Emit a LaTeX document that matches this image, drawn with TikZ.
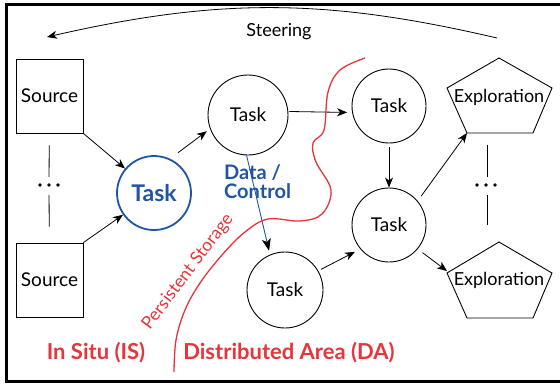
\documentclass[tikz,border=0pt]{standalone}
\usepackage{fontspec}
\setmainfont{Lato}
\usetikzlibrary{arrows.meta,calc}
\definecolor{dred}{RGB}{232,52,58}
\definecolor{dblue}{RGB}{32,84,164}
\tikzset{
  lbl/.style={font=\fontsize{18}{20}\selectfont},
  taskc/.style={circle,draw,line width=0.9pt,inner sep=0pt,font=\fontsize{19}{20}\selectfont},
  srcbox/.style={rectangle,draw,line width=0.9pt,minimum width=67pt,minimum height=74pt,inner sep=0pt,font=\fontsize{19}{20}\selectfont},
  pent/.style={draw,line width=0.9pt,line join=miter},
  arr/.style={line width=0.8pt,-{Stealth[length=10pt,width=8pt,inset=3pt]}},
  redlbl/.style={text=dred,font=\fontsize{22}{24}\selectfont\bfseries},
  dotsn/.style={minimum width=22pt,minimum height=10pt,inner sep=0pt},
  vline/.style={line width=0.8pt},
}
\begin{document}
\begin{tikzpicture}[x=1pt,y=-1pt]
\useasboundingbox (0,0) rectangle (560,384);
\draw[line width=3pt] (566,4) -- (6,4) -- (6,381) -- (566,381);

% sources
\node[srcbox] (src1) at (49.5,96) {Source};
\node[srcbox] (src2) at (49.5,280) {Source};
\node[dotsn] (d1) at (49,185) {};
\foreach \x in {40,49,58} \fill (\x,185) circle (1.9pt);
\draw[vline,shorten <=12pt,shorten >=3pt] (src1) -- (d1);
\draw[vline,shorten <=5pt,shorten >=16pt] (d1) -- (src2);

% tasks
\node[taskc,draw=dblue,line width=1.8pt,minimum size=74pt,text=dblue,font=\fontsize{23}{24}\selectfont\bfseries] (bt) at (154,193) {Task};
\node[taskc,minimum size=80pt] (t1) at (248,115) {Task};
\node[taskc,minimum size=74pt] (t2) at (389,106) {Task};
\node[taskc,minimum size=74pt] (t3) at (389,225) {Task};
\node[taskc,minimum size=76pt] (t4) at (285,290) {Task};

% explorations
\draw[pent] (499,58) -- (552,88) -- (533,133) -- (467,133) -- (447,88) -- cycle;
\coordinate (e1bl) at (467,133);
\node[lbl] (e1) at (499,97) {Exploration};
\draw[pent] (499,242) -- (552,273) -- (533,318) -- (467,318) -- (447,273) -- cycle;
\coordinate (e2l) at (447,271);
\node[lbl] (e2) at (499,280) {Exploration};
\node[dotsn] (d2) at (486,185) {};
\foreach \x in {477,486,495} \fill (\x,185) circle (1.9pt);
\draw[vline] (487,145) -- (487,177);
\draw[vline] (487,195) -- (487,225);

% arrows
\draw[arr] (src1.south east) -- (bt);
\draw[arr] (src2.north east) -- (bt);
\draw[arr,shorten <=10pt,shorten >=4pt] (bt.65) -- (t1.200);
\draw[arr,shorten <=1pt,shorten >=5pt] (t1.5) -- (t2.190);
\draw[arr,shorten <=4pt] (t2) -- (t3);
\draw[arr,shorten <=6pt] (t3.40) -- (e1bl);
\draw[arr,shorten <=6pt] (t3.-40) -- (e2l);
\draw[arr,shorten <=3pt,shorten >=6pt] (t4.30) -- (t3.220);
\draw[line width=0.9pt,draw=dblue,-{Stealth[length=12pt,width=9pt,inset=3pt,color=black]},shorten >=4pt] (t1.268) -- (t4.113);

% steering
\coordinate (sR) at (497,38);
\coordinate (sL) at (47,37);
\draw[arr] (sR) to[bend right=13] (sL);
\node[lbl] (steer) at (279,32) {Steering};

% data/control
\node[text=dblue,font=\fontsize{20}{19}\selectfont\bfseries,align=left,anchor=north west,inner sep=0pt] (dc) at (224,164) {Data /\\Control};

% persistent storage boundary
\draw[dred,line width=1.3pt] plot[smooth,tension=0.6] coordinates {(365,58) (340,70) (328,92) (324,130) (313,143) (316,162) (331,190) (322,214) (300,221) (268,219) (245,232) (222,255) (200,283) (185,310) (176,340) (174,372)};
\node[text=dred,font=\fontsize{17.5}{18}\selectfont,rotate=53] (ps) at (188,272) {Persistent Storage};

\node[redlbl] (is) at (96,353) {In Situ (IS)};
\node[redlbl] (da) at (289,353) {Distributed Area (DA)};
\end{tikzpicture}
\end{document}
